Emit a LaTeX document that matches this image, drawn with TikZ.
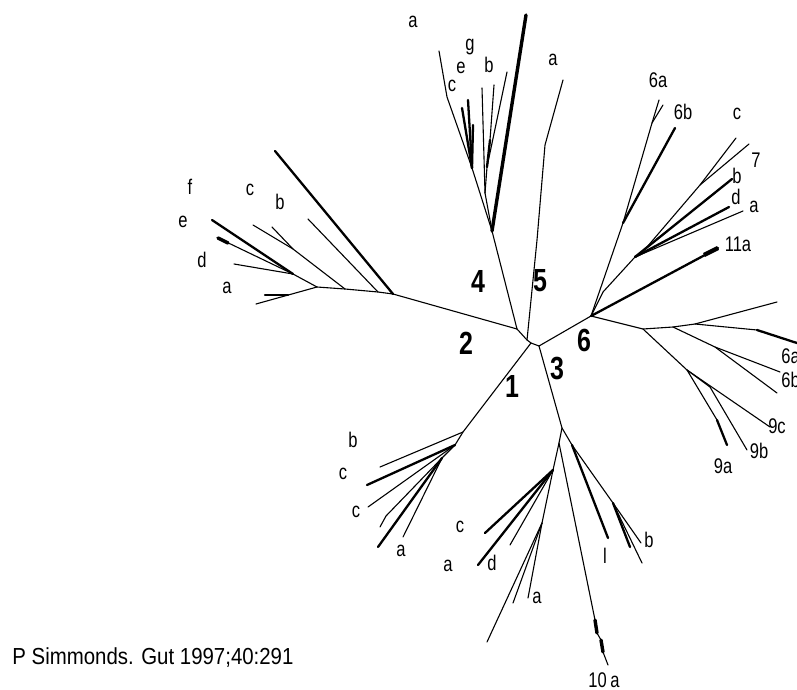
\documentclass[tikz,border=0pt]{standalone}
\usepackage{fontspec}
\setmainfont{Liberation Sans}[FakeStretch=0.88]
\newfontfamily\labfont{Liberation Sans}[FakeStretch=0.78]
\begin{document}
\begin{tikzpicture}[x=0.5pt,y=-0.5pt,
  br/.style={line width=0.55pt,line join=round,line cap=round},
  thk/.style={line width=1.15pt,line join=round,line cap=round},
  vthk/.style={line width=1.7pt,line join=round,line cap=round},
  lab/.style={font=\labfont\fontsize{10.6}{11}\selectfont,inner sep=0pt},
  typ/.style={font=\labfont\fontsize{16}{17}\selectfont\bfseries,inner sep=0pt}]
\useasboundingbox (0,0) rectangle (797,690);
\clip (0,0) rectangle (797,690);

% ---- central junctions
\coordinate (A) at (517,329);
\coordinate (B) at (527,340);
\coordinate (C) at (531,343);
\coordinate (D) at (539,346);
\draw[br] (A) -- (B) -- (C) -- (D);

% ---- genotype 2
\coordinate (T2) at (393,294);
\coordinate (t2long) at (275,151);
\coordinate (t2h1) at (378,292);
\coordinate (t2u) at (308,219);
\coordinate (t2h2) at (345,289);
\coordinate (t2bc) at (293,249);
\coordinate (t2b) at (272,227);
\coordinate (t2c) at (253,225);
\coordinate (t2h3) at (317,287);
\coordinate (t2def) at (293,274);
\coordinate (t2e) at (212,220);
\coordinate (t2d) at (218,238);
\coordinate (t2dk) at (228,243);
\coordinate (t2x) at (234,264);
\coordinate (t2a) at (256,304);
\coordinate (t2aj) at (288,295);
\coordinate (t2a2) at (265,295);
\draw[br] (A) -- (T2);
\draw[thk] (T2) -- (t2long);
\draw[br] (T2) -- (t2h1) -- (t2h2) -- (t2h3);
\draw[br] (t2h1) -- (t2u);
\draw[br] (t2h2) -- (t2bc) -- (t2b);
\draw[br] (t2bc) -- (t2c);
\draw[br] (t2h3) -- (t2def);
\draw[thk] (t2def) -- (t2e);
\draw[br] (t2def) -- (t2d);
\draw[vthk] (t2dk) -- (t2d);
\draw[br] (t2def) -- (t2x);
\draw[br] (t2h3) -- (t2a);
\draw[thk] (t2aj) -- (t2a2);

% ---- genotype 4
\coordinate (T4) at (492,231);
\coordinate (t4long) at (526,15);
\coordinate (t4c0) at (472,168);
\coordinate (t4L2) at (447,97);
\coordinate (t4a) at (439,51);
\coordinate (t4k1) at (462,108);
\coordinate (t4k2) at (468,100);
\coordinate (t4k3) at (473,125);
\coordinate (t4m) at (485,193);
\coordinate (t4m2) at (487,167);
\coordinate (t4m3) at (490,140);
\coordinate (t4b) at (494,85);
\coordinate (t4r) at (507,72);
\coordinate (t4g) at (482,88);
\draw[br] (A) -- (T4);
\draw[vthk] (T4) -- (t4long);
\draw[br] (T4) -- (t4c0) -- (t4L2) -- (t4a);
\draw[thk] (t4c0) -- (t4k1);
\draw[thk] (t4c0) -- (t4k2);
\draw[thk] (t4c0) -- (t4k3);
\draw[br] (T4) -- (t4m) -- (t4m2);
\draw[thk] (t4m2) -- (t4m3);
\draw[br] (t4m3) -- (t4b);
\draw[br] (t4m2) -- (t4r);
\draw[br] (t4m) -- (t4g);

% ---- genotype 5
\coordinate (t5a) at (537,240);
\coordinate (t5b) at (545,145);
\coordinate (t5c) at (563,80);
\draw[br] (B) -- (t5a) -- (t5b) -- (t5c);

% ---- genotype 1
\coordinate (T1) at (463,432);
\coordinate (t1b) at (380,467);
\coordinate (t1n1) at (455,445);
\coordinate (t1c1) at (367,485);
\coordinate (t1n2) at (442,458);
\coordinate (t1c2) at (368,507);
\coordinate (t1a1) at (378,547);
\coordinate (t1w1) at (386,516);
\coordinate (t1w2) at (380,527);
\coordinate (t1a2) at (403,537);
\draw[br] (C) -- (T1) -- (t1b);
\draw[br] (T1) -- (t1n1) -- (t1n2);
\draw[thk] (t1n1) -- (t1c1);
\draw[br] (t1n1) -- (t1c2);
\draw[thk] (t1n2) -- (t1a1);
\draw[br] (t1n2) -- (t1w1) -- (t1w2);
\draw[br] (t1n2) -- (t1a2);

% ---- genotype 3
\coordinate (T3) at (562,428);
\coordinate (t3n1) at (572,445);
\coordinate (t3l) at (608,538);
\coordinate (t3n2) at (613,503);
\coordinate (t3b1) at (642,563);
\coordinate (t3b2) at (630,547);
\coordinate (t3b3) at (641,543);
\coordinate (t3n3) at (559,443);
\coordinate (t3n4) at (553,470);
\coordinate (t3c) at (485,533);
\coordinate (t3d) at (478,565);
\coordinate (t3x) at (510,545);
\coordinate (t3n5) at (542,523);
\coordinate (t3long) at (487,642);
\coordinate (t3a1) at (513,603);
\coordinate (t3a2) at (528,598);
\coordinate (t3t1) at (595,620);
\coordinate (t3t2) at (597,633);
\coordinate (t3t3) at (601,640);
\coordinate (t3t4) at (603,652);
\coordinate (t3t5) at (608,665);
\draw[br] (D) -- (T3) -- (t3n1);
\draw[thk] (t3n1) -- (t3l);
\draw[br] (t3n1) -- (t3n2) -- (t3b1);
\draw[thk] (t3n2) -- (t3b2);
\draw[br] (t3n2) -- (t3b3);
\draw[br] (T3) -- (t3n3) -- (t3n4) -- (t3n5);
\draw[thk] (t3n4) -- (t3c);
\draw[thk] (t3n4) -- (t3d);
\draw[br] (t3n4) -- (t3x);
\draw[br] (t3n5) -- (t3long);
\draw[br] (t3n5) -- (t3a1);
\draw[br] (t3n5) -- (t3a2);
\draw[br] (t3n3) -- (t3t1) -- (t3t2) -- (t3t3) -- (t3t4) -- (t3t5);
\draw[vthk] (t3t1) -- (t3t2);
\draw[vthk] (t3t3) -- (t3t4);

% ---- genotype 6
\coordinate (T6) at (591,316);
\coordinate (t6k0) at (603,292);
\coordinate (K) at (635,257);
\coordinate (t6s) at (647,247);
\coordinate (t6s2) at (700,185);
\coordinate (t6c) at (736,138);
\coordinate (t6seven) at (749,144);
\coordinate (t6b) at (732,179);
\coordinate (t6d) at (729,207);
\coordinate (t6a) at (743,211);
\coordinate (t6u) at (623,223);
\coordinate (t6f) at (652,123);
\coordinate (t6sa) at (659,100);
\coordinate (t6sb) at (663,105);
\coordinate (t6th) at (675,128);
\coordinate (t6e) at (718,248);
\coordinate (t6ek) at (704,255);
\coordinate (t6h1) at (643,329);
\coordinate (t6h2) at (673,327);
\coordinate (t6h3) at (695,324);
\coordinate (t6up) at (777,302);
\coordinate (t6h4) at (757,330);
\coordinate (t6r) at (800,344);
\coordinate (t6h5) at (715,347);
\coordinate (t6ra) at (780,372);
\coordinate (t6rb) at (777,393);
\coordinate (N9) at (687,370);
\coordinate (t9c) at (770,427);
\coordinate (n9b) at (710,387);
\coordinate (t9b) at (747,450);
\coordinate (n9a) at (717,420);
\coordinate (t9a) at (727,445);
\draw[br] (D) -- (T6) -- (t6k0) -- (K) -- (t6s) -- (t6s2) -- (t6c);
\draw[br] (t6s2) -- (t6seven);
\draw[thk] (K) -- (t6b);
\draw[thk] (K) -- (t6d);
\draw[br] (K) -- (t6a);
\draw[br] (T6) -- (t6u) -- (t6f) -- (t6sa);
\draw[br] (t6f) -- (t6sb);
\draw[thk] (t6u) -- (t6th);
\draw[thk] (T6) -- (t6e);
\draw[line width=2.2pt] (t6ek) -- (t6e);
\draw[br] (T6) -- (t6h1) -- (t6h2) -- (t6h3) -- (t6up);
\draw[br] (t6h3) -- (t6h4);
\draw[thk] (t6h4) -- (t6r);
\draw[br] (t6h2) -- (t6h5) -- (t6ra);
\draw[br] (t6h5) -- (t6rb);
\draw[br] (t6h1) -- (N9) -- (t9c);
\draw[br] (N9) -- (n9b) -- (t9b);
\draw[br] (N9) -- (n9a);
\draw[thk] (n9a) -- (t9a);

% ---- genotype numbers
\node[typ] (g1) at (512,386) {1};
\node[typ] (g2) at (466,343) {2};
\node[typ] (g3) at (557,369) {3};
\node[typ] (g4) at (478,281) {4};
\node[typ] (g5) at (540,281) {5};
\node[typ] (g6) at (584,340) {6};

% ---- subtype labels
\node[lab] (l4a) at (413,22) {a};
\node[lab] (l4c) at (452,86) {c};
\node[lab] (l4e) at (461,68) {e};
\node[lab] (l4g) at (470,47) {g};
\node[lab] (l4b) at (489,65) {b};
\node[lab] (l5a) at (553,60) {a};
\node[lab] (l2f) at (190,187) {f};
\node[lab] (l2e) at (183,222) {e};
\node[lab] (l2c) at (250,190) {c};
\node[lab] (l2b) at (280,202) {b};
\node[lab] (l2d) at (202,260) {d};
\node[lab] (l2a) at (227,288) {a};
\node[lab] (l6a) at (658,80) {6a};
\node[lab] (l6b) at (683,112) {6b};
\node[lab] (l6c) at (737,114) {c};
\node[lab] (l67) at (756,160) {7};
\node[lab] (l6bb) at (737,176) {b};
\node[lab] (l6d) at (736,197) {d};
\node[lab] (l6aa) at (754,207) {a};
\node[lab] (l11a) at (738,244) {11a};
\node[lab,anchor=west] (r6a) at (781,356) {6a};
\node[lab,anchor=west] (r6b) at (781,380) {6b};
\node[lab] (l9c) at (777,426) {9c};
\node[lab] (l9b) at (759,451) {9b};
\node[lab] (l9a) at (723,466) {9a};
\node[lab] (l1b) at (353,440) {b};
\node[lab] (l1c) at (343,474) {c};
\node[lab] (l1cc) at (356,512) {c};
\node[lab] (l1a) at (401,551) {a};
\node[lab] (l3c) at (460,527) {c};
\node[lab] (l3a) at (448,566) {a};
\node[lab] (l3d) at (492,563) {d};
\node[lab] (l3aa) at (537,598) {a};
\node[lab] (l3l) at (605,556) {l};
\node[lab] (l3b) at (649,540) {b};
\node[lab] (l10a) at (604,680) {10\,a};

% ---- source line
\node[anchor=west,inner sep=0pt,font=\fontsize{11.6}{12}\selectfont] (src) at (12,658) {P Simmonds. Gut 1997;40:291};
\end{tikzpicture}
\end{document}
